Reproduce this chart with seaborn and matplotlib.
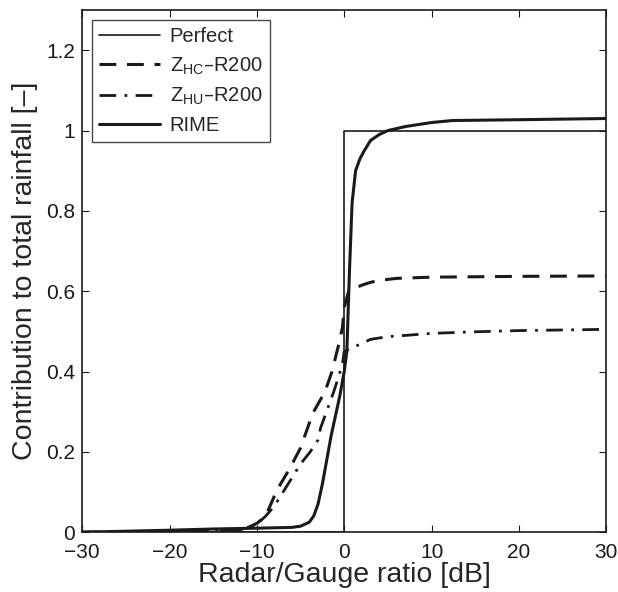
import numpy as np
import pandas as pd
import matplotlib
matplotlib.use("Agg")
import matplotlib.pyplot as plt
import seaborn as sns

# Perfect step
perfect_x = [-30, 0, 0, 30]
perfect_y = [0, 0, 1, 1]

# Z_HC-R200 (dashed)
zhc_x = [-30, -20, -15, -12, -11, -10, -9, -8.8, -7.7, -6.2, -5, -3.7, -3.5, -2.2, -1.4, -0.6, -0.2, 0, 0.5, 1, 2, 3, 4, 6, 10, 15, 20, 30]
zhc_y = [0, 0.002, 0.004, 0.008, 0.012, 0.022, 0.04, 0.05, 0.105, 0.16, 0.21, 0.29, 0.3, 0.35, 0.4, 0.47, 0.51, 0.56, 0.6, 0.605, 0.615, 0.622, 0.627, 0.632, 0.635, 0.636, 0.637, 0.638]

# Z_HU-R200 (dash-dot)
zhu_x = [-30, -20, -15, -12, -11, -10, -9, -8, -7, -6, -5, -3.9, -3, -2.7, -1.2, -0.6, -0.2, 0, 0.5, 1, 2, 3, 5, 7, 10, 15, 20, 30]
zhu_y = [0, 0.002, 0.004, 0.006, 0.01, 0.02, 0.04, 0.065, 0.1, 0.135, 0.17, 0.2, 0.23, 0.26, 0.35, 0.39, 0.42, 0.45, 0.455, 0.46, 0.47, 0.48, 0.487, 0.49, 0.495, 0.499, 0.502, 0.505]

# RIME (thick solid)
rime_x = [-30, -20, -15, -10, -6, -5, -4, -3.5, -3, -2.5, -2, -1.5, -1, -0.5, 0, 0.3, 0.6, 0.9, 1.3, 1.8, 2.3, 3, 4, 5, 7, 10, 12.4, 20, 30]
rime_y = [0, 0.005, 0.008, 0.01, 0.012, 0.015, 0.025, 0.04, 0.07, 0.12, 0.18, 0.24, 0.29, 0.34, 0.4, 0.45, 0.65, 0.82, 0.9, 0.93, 0.95, 0.975, 0.99, 1.0, 1.01, 1.02, 1.025, 1.027, 1.03]

sns.set_style("ticks")
plt.rcParams['font.family'] = ['Liberation Sans', 'DejaVu Sans']
plt.rcParams['mathtext.default'] = 'regular'

fig = plt.figure(figsize=(6.18, 5.92), dpi=100)
ax = fig.add_axes([0.133, 0.101, 0.848, 0.882])

k = '#1a1a1a'
sns.lineplot(x=perfect_x, y=perfect_y, ax=ax, color=k, lw=1.2, sort=False,
             estimator=None, label='Perfect')
sns.lineplot(x=zhc_x, y=zhc_y, ax=ax, color=k, lw=2.2, estimator=None,
             label='Z$_{HC}$–R200', linestyle=(0, (5.5, 3.5)))
sns.lineplot(x=zhu_x, y=zhu_y, ax=ax, color=k, lw=2.0, estimator=None,
             label='Z$_{HU}$–R200', linestyle=(0, (6, 3, 1, 3)))
sns.lineplot(x=rime_x, y=rime_y, ax=ax, color=k, lw=2.2, estimator=None,
             label='RIME')

ax.set_xlim(-30, 30)
ax.set_ylim(0, 1.3)
ax.set_xticks([-30, -20, -10, 0, 10, 20, 30])
ax.set_yticks([0, 0.2, 0.4, 0.6, 0.8, 1.0, 1.2])
ax.set_yticklabels(['0', '0.2', '0.4', '0.6', '0.8', '1', '1.2'])
ax.tick_params(direction='in', top=True, right=True, labelsize=15, length=5,
               width=0.8, colors=k)
ax.tick_params(axis='y', pad=5)
ax.tick_params(axis='x', pad=8)
for s in ax.spines.values():
    s.set_visible(True)
    s.set_linewidth(1.2)
    s.set_color(k)
ax.set_xlabel('Radar/Gauge ratio [dB]', fontsize=20.5, labelpad=0)
ax.set_ylabel('Contribution to total rainfall [–]', fontsize=20.5, labelpad=6)

leg = ax.legend(loc='upper left', fontsize=14.5, frameon=True, fancybox=False,
                borderaxespad=0.5, handlelength=3.0, labelspacing=0.45,
                borderpad=0.35, handletextpad=0.5)
leg.get_frame().set_edgecolor(k)
leg.get_frame().set_linewidth(1.0)

fig.savefig('out.png', dpi=100)
